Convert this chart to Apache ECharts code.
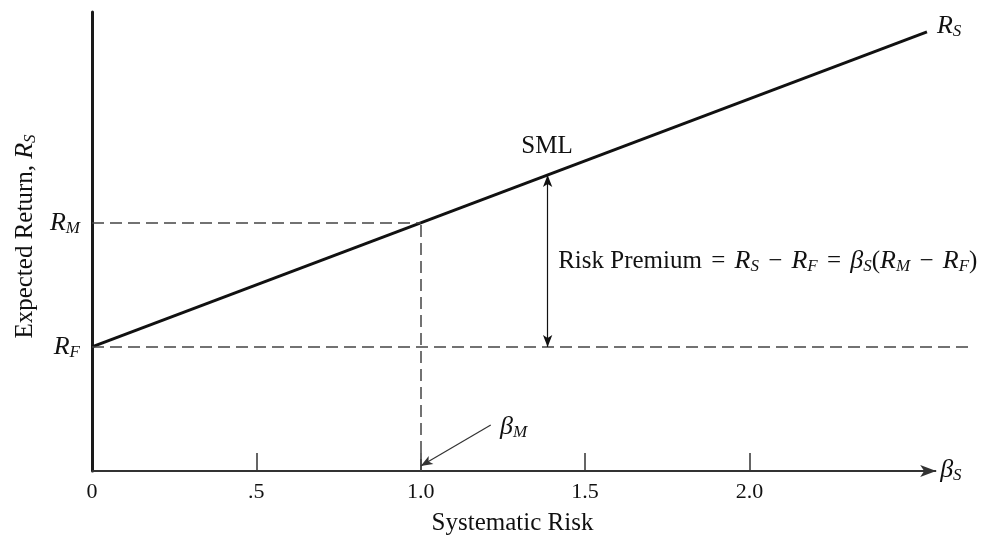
<!DOCTYPE html>
<html>
<head>
<meta charset="utf-8">
<script src="https://cdn.jsdelivr.net/npm/echarts@6/dist/echarts.min.js"></script>
<style>
  html, body { margin: 0; padding: 0; background: #fff; }
  #chart { width: 990px; height: 535px; }
</style>
</head>
<body>
<div id="chart"></div>
<script>
// 数据
var betaTicks = [0, 0.5, 1.0, 1.5, 2.0];
var betaTickLabels = ['0', '.5', '1.0', '1.5', '2.0'];
var returnTicks = [1, 2];                 // R_F, R_M
var returnTickLabels = ['{r|R}{s|F}', '{r|R}{s|M}'];
var smlBeta = [0, 2.54];
var smlReturn = [1, 3.54];
var rf = 1, rm = 2, betaM = 1;
var premiumBeta = 1.386;                  // 风险溢价箭头位置

(function(){
    var box = document.getElementById('chart')
    var myChart = echarts.init(box)
    var serif = 'Liberation Serif'
    var ink = '#111'
    var rich = {
        t: { fontFamily: serif, fontSize: 25, color: ink },
        o: { fontFamily: serif, fontSize: 25, color: ink, padding: [0, 3, 0, 3] },
        r: { fontFamily: serif, fontStyle: 'italic', fontSize: 26, color: ink },
        s: { fontFamily: serif, fontStyle: 'italic', fontSize: 17, color: ink, padding: [11, 0, 0, 0] }
    }
    var dash = { type: [12, 6], width: 1.5, color: '#444' }
    var smlData = smlBeta.map(function(b, i){ return [b, smlReturn[i]] })

    var option = {
        animation: false,
        grid: { left: 92, right: 17, top: 12, bottom: 64, outerBoundsMode: 'none' },
        xAxis: {
            type: 'value',
            min: 0,
            max: 2.68,
            interval: 0.5,
            axisLine: { show: false },
            splitLine: { show: false },
            axisTick: {
                show: true,
                inside: true,
                length: 18,
                customValues: betaTicks.slice(1),
                lineStyle: { color: '#333', width: 1.5 }
            },
            axisLabel: {
                customValues: betaTicks,
                margin: 10,
                fontFamily: serif,
                fontSize: 22,
                color: ink,
                formatter: function(v){
                    var i = betaTicks.indexOf(v)
                    return i >= 0 ? betaTickLabels[i] : ''
                }
            },
            name: 'Systematic Risk',
            nameLocation: 'middle',
            nameGap: 40,
            nameTextStyle: { fontFamily: serif, fontSize: 25, color: ink, padding: [0, 40, 0, 0] }
        },
        yAxis: {
            type: 'value',
            min: 0,
            max: 3.7,
            interval: 1,
            axisLine: { show: true, lineStyle: { color: '#1a1a1a', width: 3 } },
            axisTick: { show: false },
            splitLine: { show: false },
            axisLabel: {
                customValues: returnTicks,
                margin: 12,
                rich: rich,
                formatter: function(v){
                    var i = returnTicks.indexOf(v)
                    return i >= 0 ? returnTickLabels[i] : ''
                }
            },
            name: '{t|Expected Return, }{r|R}{s|S}',
            nameLocation: 'middle',
            nameRotate: 90,
            nameGap: 50,
            nameTextStyle: { rich: rich, padding: [0, 0, 0, 10] }
        },
        series: [
            {
                name: 'SML',
                type: 'line',
                clip: false,
                data: smlData,
                symbol: 'none',
                lineStyle: { color: ink, width: 3 },
                endLabel: {
                    show: true,
                    distance: 10,
                    offset: [0, -6],
                    formatter: '{r|R}{s|S}',
                    rich: rich
                },
                markLine: {
                    silent: true,
                    symbol: 'none',
                    label: { show: false },
                    emphasis: { disabled: true },
                    data: [
                        // x 轴（带箭头）
                        [
                            { coord: [0, 0], symbol: 'none', lineStyle: { type: 'solid', color: '#333', width: 2 } },
                            { coord: [2.568, 0], symbol: 'arrow', symbolSize: [9, 16] }
                        ],
                        // R_M 虚线
                        [{ coord: [0, rm], lineStyle: dash }, { coord: [betaM, rm] }],
                        [{ coord: [betaM, 0], lineStyle: dash }, { coord: [betaM, rm] }],
                        // R_F 虚线
                        [{ coord: [0, rf], lineStyle: dash }, { coord: [2.68, rf] }],
                        // 风险溢价双箭头
                        [
                            { coord: [premiumBeta, rf + premiumBeta], symbol: 'arrow', symbolSize: [7, 12], lineStyle: { type: 'solid', color: ink, width: 1.2 } },
                            { coord: [premiumBeta, rf], symbol: 'arrow', symbolSize: [7, 12] }
                        ],
                        // β_M 指示箭头
                        [
                            { coord: [1.213, 0.371], symbol: 'none', lineStyle: { type: 'solid', color: '#333', width: 1.2 } },
                            { coord: [1.0, 0.04], symbol: 'arrow', symbolSize: [7, 12] }
                        ]
                    ]
                }
            },
            {
                name: 'labels',
                type: 'scatter',
                symbolSize: 0,
                silent: true,
                clip: false,
                itemStyle: { opacity: 1 },
                label: { show: true, rich: rich, color: ink, textBorderWidth: 0, position: 'right', distance: 0 },
                data: [
                    { value: [1.384, 2.62], label: { formatter: '{t|SML}', position: 'inside' } },
                    { value: [1.418, 1.69], label: { formatter: '{t|Risk Premium}{o| = }{r|R}{s|S}{o| − }{r|R}{s|F}{o| = }{r|β}{s|S}{t|(}{r|R}{s|M}{o| − }{r|R}{s|F}{t|)}' } },
                    { value: [1.241, 0.355], label: { formatter: '{r|β}{s|M}' } },
                    { value: [2.58, 0.01], label: { formatter: '{r|β}{s|S}' } }
                ]
            }
        ]
    };
    myChart.setOption(option)
    window.addEventListener('resize', function(){
        myChart.resize()
    })
})();
</script>
</body>
</html>
